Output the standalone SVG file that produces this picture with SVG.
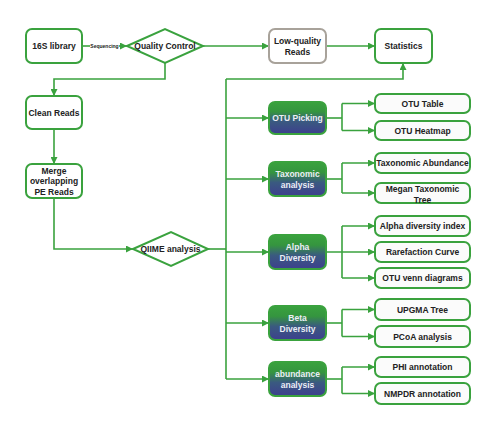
<svg xmlns="http://www.w3.org/2000/svg" width="500" height="433" viewBox="0 0 500 433">
<defs>
<linearGradient id="gr" x1="0" y1="0" x2="0" y2="1">
<stop offset="0" stop-color="#3aa23e"/>
<stop offset="0.3" stop-color="#35953f"/>
<stop offset="0.6" stop-color="#3a5a80"/>
<stop offset="1" stop-color="#3d3f8e"/>
</linearGradient>
<marker id="ah" viewBox="0 0 10 10" refX="10" refY="5" markerWidth="7" markerHeight="7" markerUnits="userSpaceOnUse" orient="auto">
<path d="M0,0 L10,5 L0,10 z" fill="#3aa23e"/>
</marker>
<style>
.box{fill:#ffffff;stroke:#3aa23e;stroke-width:2}
.gray{fill:#ffffff;stroke:#a8a29a;stroke-width:2}
.res{fill:#fbfbfb;stroke:#3aa23e;stroke-width:2}
.grad{fill:url(#gr);stroke:#3aa23e;stroke-width:2}
.dia{fill:#ffffff;stroke:#3aa23e;stroke-width:2}
.t{font-family:"Liberation Sans",Arial,sans-serif;font-weight:bold;font-size:8.5px;fill:#222;text-anchor:middle}
.w{font-family:"Liberation Sans",Arial,sans-serif;font-weight:bold;font-size:8.5px;fill:#eceef6;text-anchor:middle}
.s{font-family:"Liberation Sans",Arial,sans-serif;font-weight:bold;font-size:5px;fill:#222;text-anchor:middle}
.c{fill:none;stroke:#3aa23e;stroke-width:1.6}
</style>
</defs>
<rect width="500" height="433" fill="#ffffff"/>
<g id="connectors">
<path class="c" d="M82,46 H90"/>
<path class="c" d="M119,46 H127" marker-end="url(#ah)"/>
<text class="s" x="104.5" y="47.8">Sequencing</text>
<path class="c" d="M203,46 H269" marker-end="url(#ah)"/>
<path class="c" d="M326,46 H375" marker-end="url(#ah)"/>
<path class="c" d="M165,63 V79 H54 V96" marker-end="url(#ah)"/>
<path class="c" d="M226,79 H403 V63" marker-end="url(#ah)"/>
<path class="c" d="M226,79 V379"/>
<path class="c" d="M54,129 V164" marker-end="url(#ah)"/>
<path class="c" d="M54,198 V249 H133" marker-end="url(#ah)"/>
<path class="c" d="M208,249 H226"/>
<path class="c" d="M226,118 H269" marker-end="url(#ah)"/>
<path class="c" d="M226,179 H269" marker-end="url(#ah)"/>
<path class="c" d="M226,252 H269" marker-end="url(#ah)"/>
<path class="c" d="M226,323 H269" marker-end="url(#ah)"/>
<path class="c" d="M226,379 H269" marker-end="url(#ah)"/>
<path class="c" d="M326,118 H342"/>
<path class="c" d="M342,103.5 V130.5"/>
<path class="c" d="M342,103.5 H375" marker-end="url(#ah)"/>
<path class="c" d="M342,130.5 H375" marker-end="url(#ah)"/>
<path class="c" d="M326,179 H342"/>
<path class="c" d="M342,163 V193"/>
<path class="c" d="M342,163 H375" marker-end="url(#ah)"/>
<path class="c" d="M342,193 H375" marker-end="url(#ah)"/>
<path class="c" d="M326,252 H375" marker-end="url(#ah)"/>
<path class="c" d="M342,226 V278"/>
<path class="c" d="M342,226 H375" marker-end="url(#ah)"/>
<path class="c" d="M342,278 H375" marker-end="url(#ah)"/>
<path class="c" d="M326,323 H342"/>
<path class="c" d="M342,309.5 V336.5"/>
<path class="c" d="M342,309.5 H375" marker-end="url(#ah)"/>
<path class="c" d="M342,336.5 H375" marker-end="url(#ah)"/>
<path class="c" d="M326,379 H342"/>
<path class="c" d="M342,367 V393.5"/>
<path class="c" d="M342,367 H375" marker-end="url(#ah)"/>
<path class="c" d="M342,393.5 H375" marker-end="url(#ah)"/>
</g>
<g id="n16s"><rect class="box" x="26" y="29" width="56" height="34" rx="6"/><text class="t" x="54" y="49">16S library</text></g>
<g id="nqc"><polygon class="dia" points="127,46 165,29 203,46 165,63"/><text class="t" x="165" y="49">Quality Control</text></g>
<g id="nlow"><rect class="gray" x="269" y="29" width="57" height="34" rx="6"/><text class="t" x="297.5" y="44">Low-quality</text><text class="t" x="297.5" y="55">Reads</text></g>
<g id="nstat"><rect class="box" x="375" y="29" width="57" height="34" rx="6"/><text class="t" x="403.5" y="49">Statistics</text></g>
<g id="nclean"><rect class="box" x="26" y="96" width="56" height="33" rx="6"/><text class="t" x="54" y="115.5">Clean Reads</text></g>
<g id="nmerge"><rect class="box" x="26" y="164" width="56" height="34" rx="6"/><text class="t" x="54" y="173.5">Merge</text><text class="t" x="54" y="184">overlapping</text><text class="t" x="54" y="195">PE Reads</text></g>
<g id="nqiime"><polygon class="dia" points="133,249 171,232 208,249 171,266"/><text class="t" x="170.5" y="252">QIIME analysis</text></g>
<g id="notu"><rect class="grad" x="269" y="102" width="57" height="32" rx="6"/><text class="w" x="297.5" y="121">OTU Picking</text></g>
<g id="ntax"><rect class="grad" x="269" y="162" width="57" height="34" rx="6"/><text class="w" x="297.5" y="177">Taxonomic</text><text class="w" x="297.5" y="188">analysis</text></g>
<g id="nalpha"><rect class="grad" x="269" y="235" width="57" height="34" rx="6"/><text class="w" x="297.5" y="250">Alpha</text><text class="w" x="297.5" y="261">Diversity</text></g>
<g id="nbeta"><rect class="grad" x="269" y="306" width="57" height="34" rx="6"/><text class="w" x="297.5" y="321">Beta</text><text class="w" x="297.5" y="332">Diversity</text></g>
<g id="nabund"><rect class="grad" x="269" y="362" width="57" height="34" rx="6"/><text class="w" x="297.5" y="377">abundance</text><text class="w" x="297.5" y="388">analysis</text></g>
<g id="rotutable"><rect class="res" x="375" y="94" width="95" height="19" rx="6"/><text class="t" x="422.5" y="106.5">OTU Table</text></g>
<g id="rotuheat"><rect class="res" x="375" y="121" width="95" height="19" rx="6"/><text class="t" x="422.5" y="133.5">OTU Heatmap</text></g>
<g id="rtaxab"><rect class="res" x="375" y="153" width="95" height="20" rx="6"/><text class="t" x="422.5" y="166">Taxonomic Abundance</text></g>
<g id="rmegan"><rect class="res" x="375" y="183" width="95" height="20" rx="6"/><text class="t" x="422.5" y="192">Megan Taxonomic</text><text class="t" x="422.5" y="202.5">Tree</text></g>
<g id="ralpha"><rect class="res" x="375" y="216" width="95" height="20" rx="6"/><text class="t" x="422.5" y="229">Alpha diversity index</text></g>
<g id="rrare"><rect class="res" x="375" y="242" width="95" height="20" rx="6"/><text class="t" x="422.5" y="255">Rarefaction Curve</text></g>
<g id="rvenn"><rect class="res" x="375" y="268" width="95" height="20" rx="6"/><text class="t" x="422.5" y="281">OTU venn diagrams</text></g>
<g id="rupgma"><rect class="res" x="375" y="299" width="95" height="21" rx="6"/><text class="t" x="422.5" y="312.5">UPGMA Tree</text></g>
<g id="rpcoa"><rect class="res" x="375" y="326" width="95" height="21" rx="6"/><text class="t" x="422.5" y="339.5">PCoA analysis</text></g>
<g id="rphi"><rect class="res" x="375" y="357" width="95" height="20" rx="6"/><text class="t" x="422.5" y="370">PHI annotation</text></g>
<g id="rnmpdr"><rect class="res" x="375" y="383" width="95" height="21" rx="6"/><text class="t" x="422.5" y="396.5">NMPDR annotation</text></g>
</svg>
